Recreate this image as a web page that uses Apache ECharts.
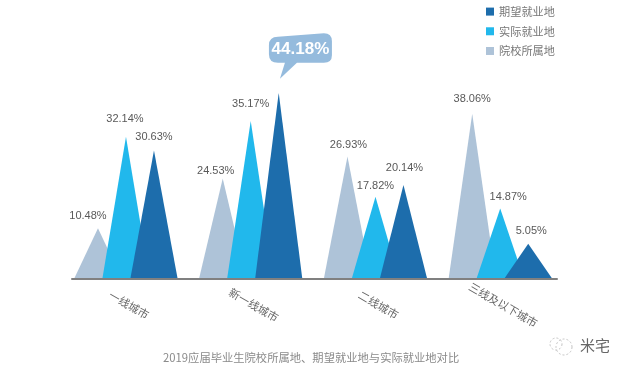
<!DOCTYPE html>
<html><head><meta charset="utf-8">
<style>html,body{margin:0;padding:0;background:#fff}#c{width:630px;height:373px}</style>
<script src="https://cdn.jsdelivr.net/npm/echarts@6/dist/echarts.min.js"></script>
</head><body><div id="c"></div>
<script>
const categories = ['一线城市','新一线城市','二线城市','三线及以下城市'];
const seriesNames = ['院校所属地','实际就业地','期望就业地'];
const legendOrder = ['期望就业地','实际就业地','院校所属地'];

// Printed percentages, as labelled in the reference.
const schoolLabels   = [10.48, 24.53, 26.93, 38.06];
const actualLabels   = [32.14, 35.17, 17.82, 14.87];
const expectedLabels = [30.63, 44.18, 20.14, 5.05];

// Peak heights: the reference's triangles are not
// strictly proportional to their printed percentages.
const schoolHeights   = [11.9, 23.75, 29.0, 39.2];
const actualHeights   = [33.7, 37.5, 19.4, 16.6];
const expectedHeights = [30.4, 44.18, 22.2, 8.2];

const calloutIndex = 1;
const FONT = '"Liberation Sans", "Noto Sans CJK SC", sans-serif';
const CJK = '"Noto Sans CJK SC", sans-serif';
const CALLOUT = 'path://M9,3.5 L55,0 Q63,0 63,8 L63,22 Q63,29.5 55,29.5 L28,29.5 L11,45.5 L16,29.5 L9,29.5 Q0,29.5 0,21 L0,12 Q0,3.5 9,3.5 Z';

function pts(heights, labels, offsets, hide) {
  return heights.map((h, i) => ({
    value: h,
    label: {
      show: hide !== i,
      formatter: labels[i].toFixed(2) + '%',
      offset: offsets[i]
    }
  }));
}
function tri(name, color, data, extra) {
  return Object.assign({
    name, type: 'pictorialBar', xAxisIndex: 0, yAxisIndex: 0,
    symbol: 'triangle', symbolSize: [47, '100%'], symbolPosition: 'start',
    barWidth: 28, barGap: '0%',
    itemStyle: { color },
    label: { show: true, position: 'top', distance: 5, color: '#595959', fontSize: 11, fontFamily: FONT },
    data
  }, extra || {});
}
const dashed = { stroke: '#c4c4c4', fill: 'none', lineWidth: 1, lineDash: [2, 2] };

const chart = echarts.init(document.getElementById('c'), null, { renderer: 'canvas' });
chart.setOption({
  animation: false,
  backgroundColor: '#fff',
  title: [
    { text: '2019应届毕业生院校所属地、期望就业地与实际就业地对比', left: 158, top: 347,
      textStyle: { fontSize: 11.3, fontWeight: 'normal', color: '#8a8a8a', fontFamily: CJK } },
    { text: '米宅', left: 575, top: 333,
      textStyle: { fontSize: 15, fontWeight: 'normal', color: '#666', fontFamily: CJK } }
  ],
  graphic: [
    { type: 'circle', shape: { cx: 556, cy: 344, r: 6 }, style: dashed, silent: true },
    { type: 'circle', shape: { cx: 564, cy: 347, r: 8 }, style: dashed, silent: true }
  ],
  legend: {
    data: legendOrder, orient: 'vertical', left: 481, top: 1,
    itemWidth: 8, itemHeight: 8, itemGap: 8.5, icon: 'rect',
    textStyle: { fontSize: 11.2, color: '#777', fontFamily: CJK }
  },
  grid: [
    { left: 63.6, width: 499, top: 68.5, height: 209.5 },
    { left: 72, width: 485, top: 68.5, height: 210.5 }
  ],
  xAxis: [
    { type: 'category', gridIndex: 0,
      data: categories.map((c, i) => i === 3
        ? { value: c, textStyle: { align: 'center', verticalAlign: 'middle', padding: [8, 0, 0, 7] } }
        : c),
      axisLine: { show: false }, axisTick: { show: false },
      axisLabel: { rotate: -30, margin: 25, interval: 0, align: 'center', verticalAlign: 'middle',
        padding: [0, 0, 0, 7], color: '#666', fontSize: 11, fontFamily: CJK } },
    { type: 'category', gridIndex: 1, data: categories,
      axisLine: { show: true, lineStyle: { color: '#808080', width: 2 } },
      axisTick: { show: false }, axisLabel: { show: false } }
  ],
  yAxis: [
    { type: 'value', gridIndex: 0, min: 0, max: 50, show: false },
    { type: 'value', gridIndex: 1, min: 0, max: 50, show: false }
  ],
  series: [
    tri(seriesNames[0], '#aec3d8', pts(schoolHeights, schoolLabels, [[-10,-2],[-7,3],[1,-1],[0,-4]])),
    tri(seriesNames[1], '#21b8ec', pts(actualHeights, actualLabels, [[-1,-7],[0,-6],[0,0],[8,-1]])),
    tri(seriesNames[2], '#1d6dac', pts(expectedHeights, expectedLabels, [[0,-3],[0,0],[1,-7],[3,-2]], calloutIndex), {
      markPoint: {
        silent: true,
        symbol: CALLOUT,
        symbolSize: [63, 45.5],
        symbolOffset: [21.7, -37],
        itemStyle: { color: '#95bbdd' },
        label: { show: true, color: '#fff', fontWeight: 'bold', fontSize: 17, fontFamily: FONT,
          offset: [0, -7], formatter: expectedLabels[calloutIndex].toFixed(2) + '%' },
        data: [{ coord: [categories[calloutIndex], expectedHeights[calloutIndex]] }]
      }
    })
  ]
});
</script></body></html>
